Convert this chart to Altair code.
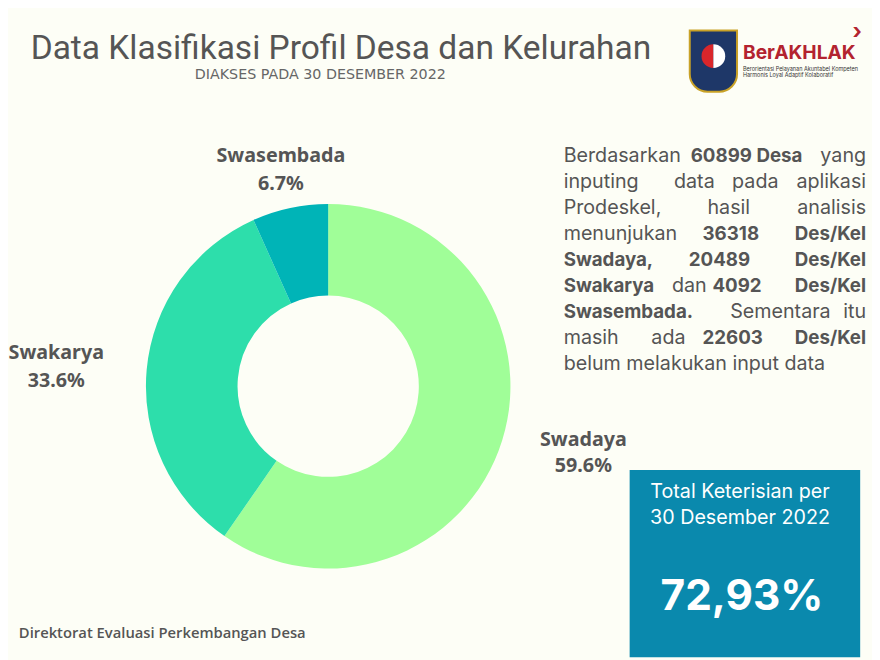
import altair as alt
import pandas as pd

# ---------------- data ----------------
categories = ["Swadaya", "Swakarya", "Swasembada"]
counts = [36318, 20489, 4092]
pct_labels = ["59.6%", "33.6%", "6.7%"]
colors = ["#A0FE98", "#2DDEAB", "#00B4B7"]

title_text = "Data Klasifikasi Profil Desa dan Kelurahan"
subtitle_text = "DIAKSES PADA 30 DESEMBER 2022"
footer_text = "Direktorat Evaluasi Perkembangan Desa"
box_line1 = "Total Keterisian per"
box_line2 = "30 Desember 2022"
box_value = "72,93%"

# paragraph: (text, bold) segments per line
para_lines = [
    [("Berdasarkan", False), ("60899 Desa", True), ("yang", False)],
    [("inputing", False), ("data", False), ("pada", False), ("aplikasi", False)],
    [("Prodeskel,", False), ("hasil", False), ("analisis", False)],
    [("menunjukan", False), ("36318", True), ("Des/Kel", True)],
    [("Swadaya,", True), ("20489", True), ("Des/Kel", True)],
    [("Swakarya", True), ("dan", False), ("4092", True), ("Des/Kel", True)],
    [("Swasembada.", True), ("Sementara", False), ("itu", False)],
    [("masih", False), ("ada", False), ("22603", True), ("Des/Kel", True)],
    [("belum melakukan input data", False)],
]

# ---------------- layout (page coordinates) ----------------
OFF = 8  # page margin
W, H = 864, 644
BG = "#FDFEF6"
GREY = "#555555"

para_x = [
    [559, 688, 866],
    [559, 671, 730, 866],
    [559, 705, 866],
    [559, 700, 866],
    [559, 686, 866],
    [559, 669, 710, 866],
    [559, 728, 866],
    [559, 648, 700, 866],
    [559],
]
para_y0, para_dy = 153, 26.5

label_pos = {"Swadaya": (579, 442, 468), "Swakarya": (44, 353, 382), "Swasembada": (272, 153, 182)}

one = pd.DataFrame({"k": [0]})


def txt(text, x, y, size, color=GREY, weight="normal", align="left", font="Inter", baseline="middle"):
    return alt.Chart(one).mark_text(
        text=text, fontSize=size, color=color, fontWeight=weight, align=align,
        baseline=baseline, font=font,
    ).encode(x=alt.value(x - OFF), y=alt.value(y - OFF))


layers = []

# box
layers.append(
    alt.Chart(one).mark_rect(color="#0A89AD").encode(
        x=alt.value(626 - OFF), x2=alt.value(860 - OFF), y=alt.value(472 - OFF), y2=alt.value(H + 10)
    )
)

# donut
pie_df = pd.DataFrame({"cat": categories, "count": counts, "order": [0, 1, 2]})
layers.append(
    alt.Chart(pie_df).mark_arc(radius=185, radius2=92, stroke=None).encode(
        theta=alt.Theta("count:Q", stack=True),
        order=alt.Order("order:Q"),
        color=alt.Color("cat:N", scale=alt.Scale(domain=categories, range=colors), legend=None),
        x=alt.value(320 - OFF),
        y=alt.value(387 - OFF),
    )
)

# pie labels
for c, p in zip(categories, pct_labels):
    lx, ly1, ly2 = label_pos[c]
    layers.append(txt(c, lx, ly1, 20, weight="bold", align="center", font="Noto Sans"))
    layers.append(txt(p, lx, ly2, 20, weight="bold", align="center", font="Noto Sans"))

# title
layers.append(txt(title_text, 18, 45, 34, color="#555555", font="Roboto"))
layers.append(txt(subtitle_text, 312, 71, 14.5, color="#666666", align="center", font="DejaVu Sans"))

# paragraph
for i, (segs, xs) in enumerate(zip(para_lines, para_x)):
    y = para_y0 + para_dy * i
    n = len(segs)
    for j, ((t, b), x) in enumerate(zip(segs, xs)):
        al = "right" if (j == n - 1 and n > 1) else "left"
        layers.append(txt(t, x, y, 19 if b else 20, weight="bold" if b else "normal", align=al))

# box text
layers.append(txt(box_line1, 738, 494, 20, color="white", align="center"))
layers.append(txt(box_line2, 738, 521, 20, color="white", align="center"))
layers.append(txt(box_value, 740, 601, 43, color="white", weight="bold", align="center"))

# footer
layers.append(txt(footer_text, 6, 638, 15, color=GREY, weight=600, font="Open Sans"))

# logo (emblem + BerAKHLAK)
layers.append(
    alt.Chart(one).mark_rect(color="#1E3768", stroke="#C9A227", strokeWidth=2, cornerRadiusBottomLeft=18,
                             cornerRadiusBottomRight=18).encode(
        x=alt.value(687 - OFF), x2=alt.value(735 - OFF), y=alt.value(26 - OFF), y2=alt.value(88 - OFF)
    )
)
layers.append(
    alt.Chart(one).mark_arc(radius=12, color="#D9262B").encode(
        theta=alt.value(3.1416), theta2=alt.value(6.2832), x=alt.value(711 - OFF), y=alt.value(52 - OFF)
    )
)
layers.append(
    alt.Chart(one).mark_arc(radius=12, color="white").encode(
        theta=alt.value(0.0001), theta2=alt.value(3.1416), x=alt.value(711 - OFF), y=alt.value(52 - OFF)
    )
)
layers.append(txt("BerAKHLAK", 741, 49, 19.5, color="#B3232F", weight="bold"))
layers.append(txt("›", 857, 28, 22, color="#B3232F", weight="bold", align="center"))
layers.append(txt("Berorientasi Pelayanan Akuntabel Kompeten", 741, 65, 5.6, color="#333333"))
layers.append(txt("Harmonis Loyal Adaptif Kolaboratif", 741, 71, 5.6, color="#333333"))

chart = alt.layer(*layers).properties(width=W, height=H, padding=0, background=BG).configure_view(
    stroke=None
)

chart.save("out.html", embed_options={"renderer": "svg", "actions": False})
